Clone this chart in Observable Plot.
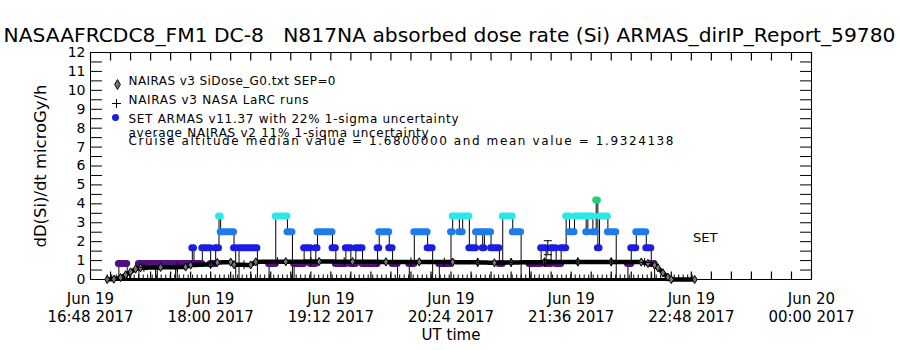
<!DOCTYPE html>
<html><head><meta charset="utf-8">
<script src="https://cdn.jsdelivr.net/npm/d3@7"></script>
<script src="https://cdn.jsdelivr.net/npm/@observablehq/plot@0.6"></script>
<style>body{margin:0;background:#fff} svg{display:block}</style>
</head><body><div id="chart"></div>
<script>
// ---------- texts ----------
const titleText = "NASAAFRCDC8_FM1 DC-8   N817NA absorbed dose rate (Si) ARMAS_dirIP_Report_59780";
const yLabel = "dD(Si)/dt microGy/h";
const xLabel = "UT time";
const legendLines = [
  "NAIRAS v3 SiDose_G0.txt SEP=0",
  "NAIRAS v3 NASA LaRC runs",
  "SET ARMAS v11.37 with 22% 1-sigma uncertainty",
  "average NAIRAS v2 11% 1-sigma uncertainty",
  "Cruise altitude median value = 1.6800000 and mean value = 1.9324138"
];
const setLabel = "SET";

// ---------- axis ticks ----------
const xMajorTimes = ["16:48", "18:00", "19:12", "20:24", "21:36", "22:48", "24:00"];
const xTickLabels = ["Jun 19\n16:48 2017", "Jun 19\n18:00 2017", "Jun 19\n19:12 2017", "Jun 19\n20:24 2017",
                     "Jun 19\n21:36 2017", "Jun 19\n22:48 2017", "Jun 20\n00:00 2017"];
const yTickValues = [0,1,2,3,4,5,6,7,8,9,10,11,12];

// ---------- ARMAS (SET) runs: start time, dose ----------
const armasStart = ["16:59","17:05","17:10","17:17","17:27","17:28","17:39","17:40","17:49","17:50",
  "17:55","18:00","18:03","18:05","18:06","18:14","18:15","18:17","18:28","18:35",
  "18:39","18:46","18:49","18:50","18:56","19:00","19:03","19:04","19:13","19:15",
  "19:21","19:24","19:27","19:31","19:40","19:41","19:47","19:49","19:52","19:59",
  "20:02","20:10","20:13","20:17","20:24","20:25","20:29","20:31","20:35","20:39",
  "20:43","20:44","20:48","20:53","20:55","21:01","21:06","21:11","21:18","21:21",
  "21:24","21:27","21:30","21:33","21:35","21:38","21:45","21:46","21:49","21:51",
  "21:52","21:53","21:58","22:03","22:10","22:12","22:15","22:21","22:24","22:26"];
const armasDose = [0,0.84,0,0.84,0,0.84,0,0.84,1.68,0.84,
  1.68,0.84,1.68,3.36,2.52,1.68,0,1.68,0,0.84,
  3.36,2.52,0,0.84,1.68,0.84,1.68,2.52,1.68,0.84,
  1.68,0.84,1.68,0.84,1.68,2.52,1.68,0.84,0,0.84,
  2.52,1.68,0,0.84,2.52,3.36,2.52,3.36,1.68,2.52,
  1.68,2.52,1.68,0.84,3.36,2.52,0,0.84,1.68,0.84,
  1.68,0.84,1.68,3.36,2.52,3.36,2.52,3.36,2.52,4.2,
  1.68,3.36,2.52,0,0.84,1.68,2.52,1.68,0.84,0];
const armasLastEnd = "22:51";
const armasLevels = [0.84, 1.68, 2.52, 3.36, 4.2];
const armasColors = ["#4f0f7c", "#1c1ce2", "#1e7be8", "#2ae8e8", "#1fcf73"];

// ---------- NAIRAS v3 SiDose_G0 ----------
const g0Time = ["16:58","17:02","17:06","17:09","17:12","17:15","17:18","17:30","17:45","17:48",
  "18:00","18:04","18:12","18:14","18:24","18:27","18:45","19:05","19:25","19:45",
  "20:05","20:25","20:40","20:50","21:00","21:20","21:40","22:00","22:18","22:22",
  "22:26","22:28","22:31","22:34","22:36","22:50"];
const g0Dose = [0,0.02,0.1,0.25,0.4,0.55,0.62,0.64,0.66,0.76,
  0.8,0.9,0.92,0.78,0.77,0.93,0.94,0.95,0.94,0.93,
  0.93,0.92,0.91,0.88,0.9,0.92,0.93,0.93,0.92,0.85,
  0.75,0.62,0.35,0.12,0,0];

// ---------- NAIRAS v3 NASA LaRC runs ----------
const larcTime = ["17:20","17:40","18:00","18:20","18:40","19:00","19:20","19:40","20:00","20:20",
  "20:40","21:00","21:20","21:40","22:00","22:20"];
const larcDose = [0.64,0.66,0.82,0.78,0.95,0.95,0.94,0.94,0.93,0.92,0.91,0.9,0.92,0.93,0.93,0.9];

// ---------- zero trace along the baseline ----------
const zeroStart = ["16:58"];
const zeroEnd = ["22:51"];

// ---------- uncertainty bars ----------
const errTime = ["21:22", "21:22"];
const errCenter = [1.68, 0.93];
const errFrac = [0.22, 0.11];

// ---------- SET label position ----------
const setTime = "22:49";
const setDose = 2.2;

// ---------- build ----------
const T = s => { const [h, m] = s.split(":").map(Number); return new Date(Date.UTC(2017, 5, 19, h, m)); };
const runs = armasStart.map((s, i) => ({t0: T(s), t1: T(i + 1 < armasStart.length ? armasStart[i + 1] : armasLastEnd), dose: armasDose[i]}));
const armasPath = runs.flatMap(r => [{t: r.t0, v: r.dose}, {t: r.t1, v: r.dose}]);
const runsNZ = runs.filter(r => r.dose > 0);
const g0 = g0Time.map((s, i) => ({t: T(s), v: g0Dose[i]}));
const larc = larcTime.map((s, i) => ({t: T(s), v: larcDose[i]}));
const zeros = zeroStart.map((s, i) => ({t0: T(s), t1: T(zeroEnd[i])}));
const errs = errTime.map((s, i) => ({t: T(s), lo: errCenter[i] * (1 - errFrac[i]), hi: errCenter[i] * (1 + errFrac[i])}));
const xMajor = xMajorTimes.map(T);
const yMin = 0, yMax = 12;
const xMinorTimes = d3.range(0, 433, 12).map(m => new Date(+T("16:48") + m * 60000));
const yMinor = d3.range(0, 12.01, 0.5);

const capSymbol = {draw(ctx) { ctx.moveTo(-4, 0); ctx.lineTo(4, 0); }};
const vTickUp = {draw(ctx) { ctx.moveTo(0, 0); ctx.lineTo(0, -8); }};
const vTickDown = {draw(ctx) { ctx.moveTo(0, 0); ctx.lineTo(0, 8); }};
const ink = "black";

const chart = Plot.plot({
  width: 900, height: 350,
  marginLeft: 90, marginRight: 89, marginTop: 52, marginBottom: 71,
  style: {fontFamily: "DejaVu Sans", fontSize: "14px", background: "white", color: "black", overflow: "visible"},
  x: {type: "utc", domain: [T("16:48"), T("24:00")], label: null, axis: null},
  y: {domain: [yMin, yMax], label: null, axis: null},
  color: {type: "ordinal", domain: armasLevels, range: armasColors},
  marks: [
    Plot.frame({stroke: ink}),
    // x ticks (inward, top and bottom)
    Plot.dot(xMinorTimes, {x: d => d, y: () => yMin, symbol: vTickUp, stroke: ink, fill: "none", strokeWidth: 1.2}),
    Plot.dot(xMinorTimes, {x: d => d, y: () => yMax, symbol: vTickDown, stroke: ink, fill: "none", strokeWidth: 1.2}),
    Plot.text(xMajor, {x: d => d, frameAnchor: "bottom", dy: 12, lineAnchor: "top", text: (d, i) => xTickLabels[i],
      fontSize: 15, lineHeight: 1.2, fill: ink}),
    Plot.axisY({anchor: "left", ticks: yMinor, tickSize: -12, tickPadding: 17, fontSize: 14,
      tickFormat: d => yTickValues.includes(d) ? String(d) : "", label: null}),
    Plot.axisY({anchor: "right", ticks: yMinor, tickSize: -12, tickFormat: () => "", label: null}),

    // baseline zero trace
    Plot.ruleY(zeros, {y: 0, x1: "t0", x2: "t1", stroke: ink, strokeWidth: 3}),
    Plot.ruleY(zeros, {y: 0, x1: "t0", x2: "t1", stroke: ink, strokeWidth: 4, dy: -3, strokeDasharray: "1 3.5"}),

    // ARMAS connecting line and colored runs
    Plot.line(armasPath, {x: "t", y: "v", stroke: ink, strokeWidth: 1}),
    Plot.ruleY(runsNZ, {y: "dose", x1: "t0", x2: "t1", stroke: "dose", strokeWidth: 7, strokeLinecap: "round"}),

    // NAIRAS curves
    Plot.line(g0, {x: "t", y: "v", stroke: ink, strokeWidth: 4.5, strokeDasharray: "3 1"}),
    Plot.dot(g0, {x: "t", y: "v", symbol: "diamond", r: 2.5, fill: "#777", stroke: ink, strokeWidth: 1}),
    Plot.dot(larc, {x: "t", y: "v", symbol: "plus", r: 3, stroke: ink, strokeWidth: 1}),

    // uncertainty bars
    Plot.ruleX(errs, {x: "t", y1: "lo", y2: "hi", stroke: ink, strokeWidth: 1}),
    Plot.dot(errs, {x: "t", y: "lo", symbol: capSymbol, stroke: ink, fill: "none", strokeWidth: 1}),
    Plot.dot(errs, {x: "t", y: "hi", symbol: capSymbol, stroke: ink, fill: "none", strokeWidth: 1}),

    // SET annotation
    Plot.text([setLabel], {x: () => T(setTime), y: () => setDose, text: d => d, textAnchor: "start", fontSize: 13, fill: ink}),

    // title, axis titles
    Plot.text([titleText], {frameAnchor: "top-left", dx: -87, dy: -17, lineAnchor: "middle", text: d => d,
      textAnchor: "start", fontSize: 19, fill: ink}),
    Plot.text([yLabel], {frameAnchor: "left", dx: -50, dy: 0, rotate: -90, lineAnchor: "middle", textAnchor: "middle",
      text: d => d, fontSize: 16, fill: ink}),
    Plot.text([xLabel], {frameAnchor: "bottom", dy: 56, lineAnchor: "middle", text: d => d, fontSize: 15, fill: ink}),

    // legend
    Plot.dot([0], {frameAnchor: "top-left", dx: 27, dy: 32, symbol: "diamond", r: 3, fill: "#777", stroke: ink, strokeWidth: 1}),
    Plot.dot([0], {frameAnchor: "top-left", dx: 26, dy: 51, symbol: "plus", r: 3, stroke: ink, strokeWidth: 1}),
    Plot.dot([0], {frameAnchor: "top-left", dx: 25, dy: 65, r: 3.5, fill: armasColors[1], stroke: "none"}),
    ...[29, 48, 67, 81, 89].map((dy, i) => Plot.text([legendLines[i]], {frameAnchor: "top-left", dx: 38, dy, text: d => d,
      lineAnchor: "middle", textAnchor: "start", fontSize: 12, fill: ink}))
  ]
});

const lengths = new Map([[titleText, 892], [yLabel, 163],
  [legendLines[0], 207], [legendLines[1], 180], [legendLines[2], 330], [legendLines[3], 300], [legendLines[4], 545]]);
chart.querySelectorAll("text").forEach(t => {
  const L = lengths.get(t.textContent);
  if (L) { t.setAttribute("textLength", L); t.setAttribute("lengthAdjust", t.textContent === titleText || t.textContent === yLabel ? "spacingAndGlyphs" : "spacing"); }
});
document.getElementById("chart").appendChild(chart);
</script>
</body></html>
